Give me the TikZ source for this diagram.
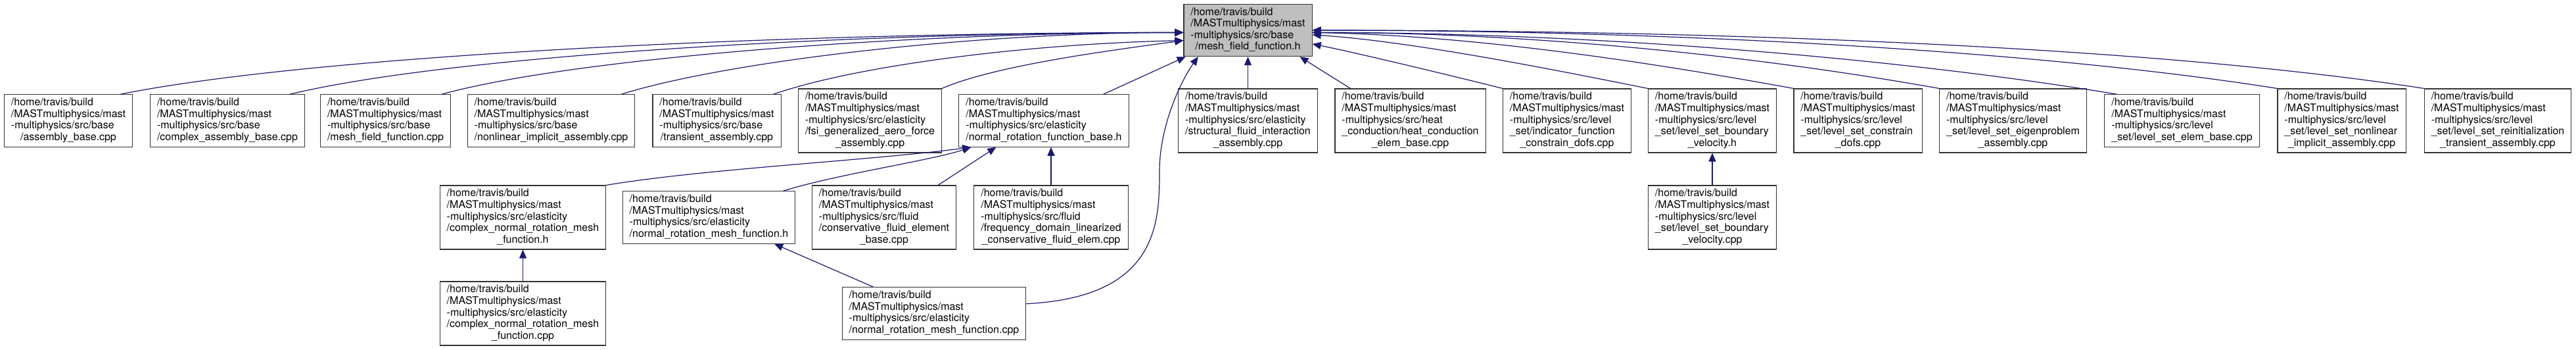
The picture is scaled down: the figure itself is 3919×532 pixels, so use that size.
\documentclass[tikz,border=0pt]{standalone}
\usepackage{fontspec}
\setmainfont{TeX Gyre Heros}
\usepackage{tikz}
\usetikzlibrary{arrows.meta, calc}
\usepackage{xcolor}
\definecolor{edgeblue}{RGB}{25,25,112}
\definecolor{rootgray}{RGB}{191,191,191}
% file label: three left-aligned lines plus a centred last line
\newcommand{\flines}[2]{\begin{tabular}{@{}l@{}}/home/travis/build\\/MASTmultiphysics/mast\\-multiphysics/src/#1\\\multicolumn{1}{@{}c@{}}{#2}\end{tabular}}

\begin{document}
\begin{tikzpicture}[
  x=1pt, y=1pt,
  file/.style={rectangle, draw=black!80, line width=1.1pt, fill=white, font=\fontsize{16}{17.6}\selectfont, inner xsep=10.5pt, inner ysep=4.5pt},
  rootfile/.style={file, fill=rootgray},
  inc/.style={draw=edgeblue, line width=1.2pt, -{Triangle[length=13pt,width=11pt]}},
]
\path[use as bounding box, fill=white] (0,0) rectangle (3919,-532);

%% Root
\node[rootfile] (root) at (1898.5,-46) {\flines{base}{/mesh\_field\_function.h}};

%% Direct includers
\node[file] (asmb)     at (104,-183.5)    {\flines{base}{/assembly\_base.cpp}};
\node[file] (cplxasmb) at (346,-183.5)    {\flines{base}{/complex\_assembly\_base.cpp}};
\node[file] (mffcpp)   at (586.5,-183.5)  {\flines{base}{/mesh\_field\_function.cpp}};
\node[file] (nlasmb)   at (838.5,-183.5)  {\flines{base}{/nonlinear\_implicit\_assembly.cpp}};
\node[file] (trasmb)   at (1090.5,-183.5) {\flines{base}{/transient\_assembly.cpp}};
\node[file] (fsiasmb)  at (1323.5,-183.5) {\flines{elasticity\\/fsi\_generalized\_aero\_force}{\_assembly.cpp}};
\node[file] (nrfbase)  at (1588,-183.5)   {\flines{elasticity}{/normal\_rotation\_function\_base.h}};
\node[file] (sfiasmb)  at (1898.5,-183.5) {\flines{elasticity\\/structural\_fluid\_interaction}{\_assembly.cpp}};
\node[file] (heatelem) at (2145.5,-183.5) {\flines{heat\\\_conduction/heat\_conduction}{\_elem\_base.cpp}};
\node[file] (indcon)   at (2384,-183.5)   {\flines{level\\\_set/indicator\_function}{\_constrain\_dofs.cpp}};
\node[file] (lsbvh)    at (2605,-183.5)   {\flines{level\\\_set/level\_set\_boundary}{\_velocity.h}};
\node[file] (lscon)    at (2826.5,-183.5) {\flines{level\\\_set/level\_set\_constrain}{\_dofs.cpp}};
\node[file] (lseig)    at (3062.5,-183.5) {\flines{level\\\_set/level\_set\_eigenproblem}{\_assembly.cpp}};
\node[file] (lselem)   at (3319.5,-183.5) {\flines{level}{\_set/level\_set\_elem\_base.cpp}};
\node[file] (lsnl)     at (3562.5,-183.5) {\flines{level\\\_set/level\_set\_nonlinear}{\_implicit\_assembly.cpp}};
\node[file] (lsreinit) at (3800,-183.5)   {\flines{level\\\_set/level\_set\_reinitialization}{\_transient\_assembly.cpp}};

%% Second level
\node[file] (cnrmh)   at (795.5,-330.5)  {\flines{elasticity\\/complex\_normal\_rotation\_mesh}{\_function.h}};
\node[file] (nrmh)    at (1078.5,-330.5) {\flines{elasticity}{/normal\_rotation\_mesh\_function.h}};
\node[file] (cfebase) at (1345,-330.5)   {\flines{fluid\\/conservative\_fluid\_element}{\_base.cpp}};
\node[file] (fdlcfe)  at (1599,-330.5)   {\flines{fluid\\/frequency\_domain\_linearized}{\_conservative\_fluid\_elem.cpp}};
\node[file] (lsbvcpp) at (2605,-330.5)   {\flines{level\\\_set/level\_set\_boundary}{\_velocity.cpp}};

%% Third level
\node[file] (cnrmcpp) at (795.5,-476.5) {\flines{elasticity\\/complex\_normal\_rotation\_mesh}{\_function.cpp}};
\node[file] (nrmcpp)  at (1421,-476.5)  {\flines{elasticity}{/normal\_rotation\_mesh\_function.cpp}};

%% Includes of the root, left side
\draw[inc] ($(asmb.north east)+(-19,0)$) .. controls +(300,60) and +(-600,0) .. (root.182);
\draw[inc] ($(cplxasmb.north east)+(-23,0)$) .. controls +(250,60) and +(-500,0) .. (root.182);
\draw[inc] ($(mffcpp.north east)+(-14,0)$) .. controls +(200,55) and +(-420,0) .. (root.182);
\draw[inc] ($(nlasmb.north east)+(-21,0)$) .. controls +(160,50) and +(-320,0) .. (root.182);
\draw[inc] ($(trasmb.north east)+(-12,0)$) .. controls +(130,45) and +(-230,-5) .. (root.189);
\draw[inc] (fsiasmb.north east) .. controls +(80,35) and +(-110,-15) .. (root.189);
\draw[inc] ($(nrfbase.north east)+(-39,0)$) -- (root.203);
\draw[inc] (sfiasmb) -- (root);

%% Includes of the root, right side
\draw[inc] ($(heatelem.north west)+(24,0)$) -- (root.333);
\draw[inc] (indcon.north west) .. controls +(-100,25) and +(60,-12) .. (root.348);
\draw[inc] (lsbvh.north west) .. controls +(-150,30) and +(150,-10) .. (root.356);
\draw[inc] (lscon.north west) .. controls +(-220,40) and +(250,-5) .. (root.358);
\draw[inc] (lseig.north west) .. controls +(-280,50) and +(330,0) .. (root.358);
\draw[inc] ($(lselem.north west)+(19,0)$) .. controls +(-330,55) and +(420,0) .. (root.358);
\draw[inc] (lsnl.north west) .. controls +(-380,60) and +(520,0) .. (root.0);
\draw[inc] (lsreinit.north west) .. controls +(-420,65) and +(600,0) .. (root.0);

%% Second level edges
\draw[inc] (cnrmh.north east) .. controls +(150,25) and +(-150,-20) .. (nrfbase.200);
\draw[inc] ($(nrmh.north east)+(-19,0)$) .. controls +(80,25) and +(-60,-20) .. (nrfbase.200);
\draw[inc] ($(cfebase.north east)+(-28,0)$) -- (nrfbase.209);
\draw[inc] (fdlcfe.north) -- (fdlcfe.north |- nrfbase.south);
\draw[inc] (lsbvcpp) -- (lsbvh);

%% Third level edges
\draw[inc] (cnrmcpp) -- (cnrmh);
\draw[inc] ($(nrmcpp.north west)+(48,0)$) -- (nrmh.338);
\coordinate (nrmbend) at (1764,-260);
\draw[inc] (nrmcpp.6) .. controls +(200,10) and +(0,-80) .. (nrmbend) .. controls +(0,70) and +(-25,-35) .. (root.208);

\end{tikzpicture}
\end{document}
